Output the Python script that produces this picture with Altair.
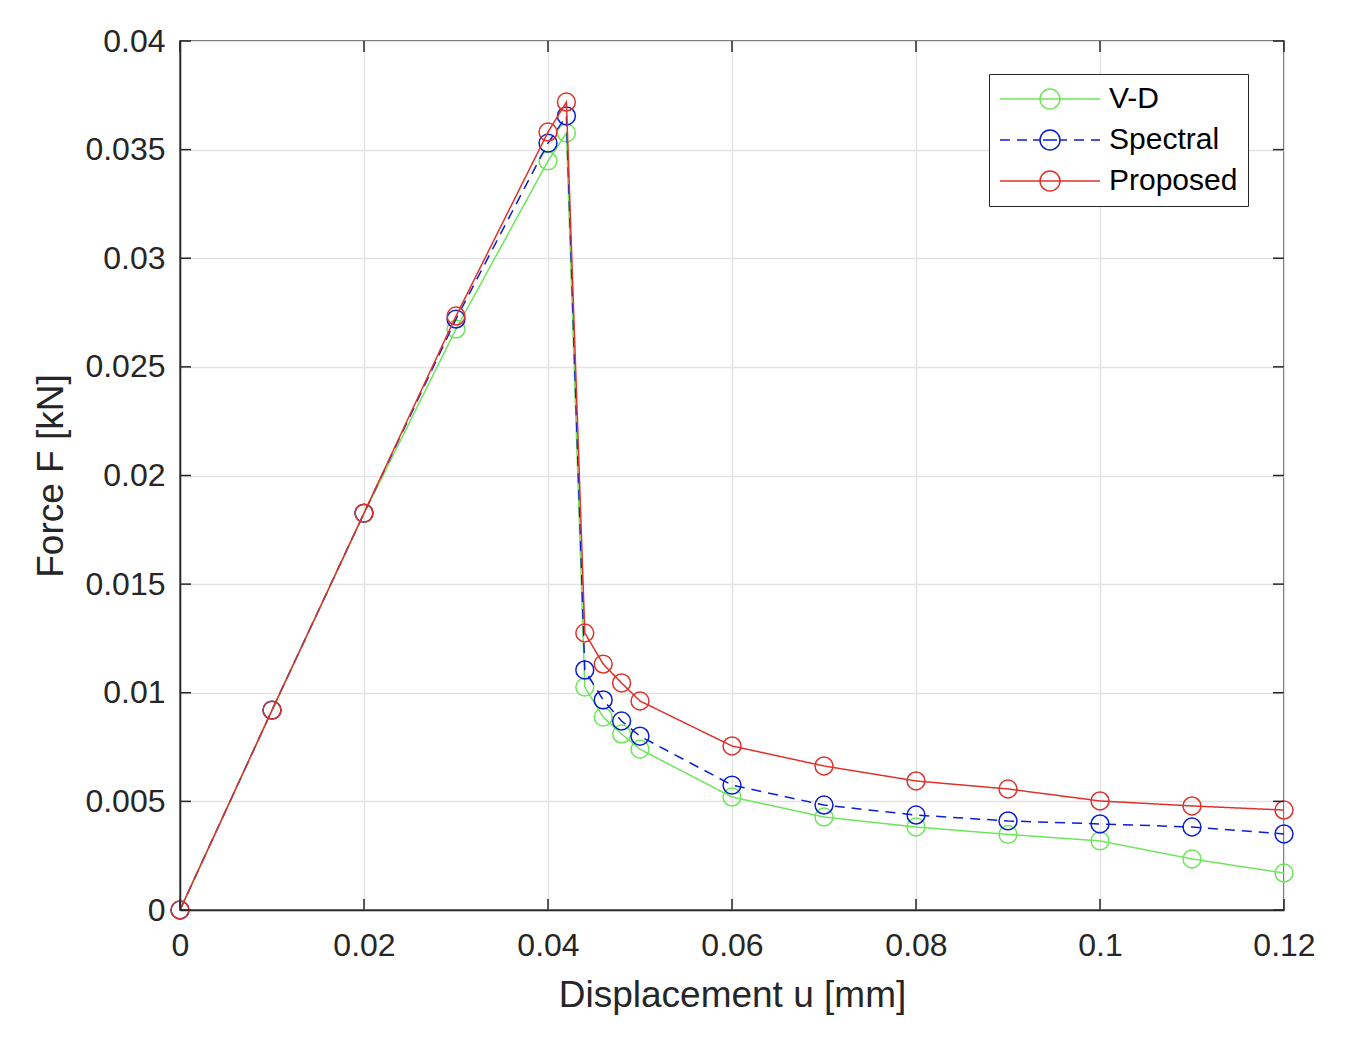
import altair as alt
import pandas as pd

disp = [0, 0.01, 0.02, 0.03, 0.04, 0.042, 0.044, 0.046, 0.048, 0.05,
        0.06, 0.07, 0.08, 0.09, 0.1, 0.11, 0.12]
vd = [0, 0.0092, 0.01825, 0.02674, 0.03448, 0.03577, 0.01026, 0.00888, 0.0081, 0.0074,
      0.0052, 0.00428, 0.00382, 0.00348, 0.00318, 0.00235, 0.0017]
spectral = [0, 0.0092, 0.01827, 0.0272, 0.0353, 0.03655, 0.01105, 0.00967, 0.0087, 0.008,
            0.00575, 0.00483, 0.00437, 0.0041, 0.00396, 0.00382, 0.0035]
proposed = [0, 0.0092, 0.01827, 0.02734, 0.03581, 0.03719, 0.01275, 0.01132, 0.01045, 0.00962,
            0.00755, 0.00663, 0.00594, 0.00557, 0.00502, 0.00479, 0.0046]

series_names = ["V-D", "Spectral", "Proposed"]
series_colors = ["#6ee65a", "#0a1ed2", "#e0322c"]
series_dash = [[1, 0], [10, 7], [1, 0]]

x_ticks = [0, 0.02, 0.04, 0.06, 0.08, 0.1, 0.12]
y_ticks = [0, 0.005, 0.01, 0.015, 0.02, 0.025, 0.03, 0.035, 0.04]

rows = []
for name, vals in zip(series_names, [vd, spectral, proposed]):
    for i, (u, f) in enumerate(zip(disp, vals)):
        rows.append({"u": u, "F": f, "series": name, "idx": i})
df = pd.DataFrame(rows)
xt = pd.DataFrame({"t": x_ticks})
yt = pd.DataFrame({"t": y_ticks})

W, H = 1104, 869
FONT = "Liberation Sans"
TXT = "#262626"
XT = "Displacement u [mm]"
YT = "Force F [kN]"

xscale = alt.Scale(domain=[0, 0.12], nice=False)
yscale = alt.Scale(domain=[0, 0.04], nice=False)
cscale = alt.Scale(domain=series_names, range=series_colors)

# legend glyphs: line with a marker circle in the middle (unit = 10 px)
circ = "M2.6,0A1,1,0,1,1,4.6,0A1,1,0,1,1,2.6,0"
solid_path = "M-1.4,0L8.6,0" + circ
dashed_path = ("M-1.4,0L-0.4,0M0.3,0L1.3,0M1.9,0L2.6,0M2.9,0L4.3,0"
               "M4.6,0L5.3,0M6.0,0L7.0,0M7.7,0L8.6,0" + circ)
sscale = alt.Scale(domain=series_names, range=[solid_path, dashed_path, solid_path])

legend = alt.Legend(
    title=None, orient="none", legendX=809, legendY=33,
    symbolSize=400, symbolStrokeWidth=1.5, symbolOpacity=1,
    symbolFillColor="transparent",
    labelFontSize=30, labelFont=FONT, labelColor="black",
    labelOffset=80, strokeColor="#262626", fillColor="white",
    padding=10, rowPadding=11,
)

xaxis = alt.Axis(values=x_ticks, format="~g", tickSize=0, labelPadding=20,
                 labelFlush=False, titlePadding=16, grid=True)
yaxis = alt.Axis(values=y_ticks, format="~g", tickSize=0, labelPadding=15,
                 labelFlush=False, titlePadding=14, grid=True)

layers = []
for name, dash in zip(series_names, series_dash):
    sub = df[df.series == name]
    line = alt.Chart(sub).mark_line(strokeWidth=1.5, strokeDash=dash).encode(
        x=alt.X("u:Q", scale=xscale, axis=xaxis, title=XT),
        y=alt.Y("F:Q", scale=yscale, axis=yaxis, title=YT),
        color=alt.Color("series:N", scale=cscale, legend=legend),
        order="idx:Q",
    )
    pts = alt.Chart(sub).mark_point(shape="circle", filled=False, size=320,
                                    strokeWidth=1.5, opacity=1).encode(
        x=alt.X("u:Q", scale=xscale, title=XT),
        y=alt.Y("F:Q", scale=yscale, title=YT),
        color=alt.Color("series:N", scale=cscale, legend=legend),
    )
    layers += [line, pts]

# legend-only layer (draws nothing; supplies the legend glyph shapes)
leg_layer = alt.Chart(df).transform_filter("false").mark_point(
    filled=False, strokeWidth=1.5, opacity=1).encode(
    x=alt.X("u:Q", scale=xscale, title=XT),
    y=alt.Y("F:Q", scale=yscale, title=YT),
    color=alt.Color("series:N", scale=cscale, legend=legend),
    shape=alt.Shape("series:N", scale=sscale, legend=legend),
)

tick_color = TXT
bx = alt.Chart(xt).mark_rule(color=tick_color, strokeWidth=1.5).encode(
    x=alt.X("t:Q", scale=xscale, title=XT), y=alt.value(H), y2=alt.value(H - 11))
tx = alt.Chart(xt).mark_rule(color=tick_color, strokeWidth=1.5).encode(
    x=alt.X("t:Q", scale=xscale, title=XT), y=alt.value(0), y2=alt.value(11))
ly = alt.Chart(yt).mark_rule(color=tick_color, strokeWidth=1.5).encode(
    y=alt.Y("t:Q", scale=yscale, title=YT), x=alt.value(0), x2=alt.value(11))
ry = alt.Chart(yt).mark_rule(color=tick_color, strokeWidth=1.5).encode(
    y=alt.Y("t:Q", scale=yscale, title=YT), x=alt.value(W), x2=alt.value(W - 11))

chart = alt.layer(*layers, leg_layer, bx, tx, ly, ry).properties(
    width=W, height=H,
    autosize=alt.AutoSizeParams(type="none"),
    padding={"left": 172, "top": 33, "right": 66, "bottom": 120},
    background="white",
).configure_view(
    stroke=TXT, strokeWidth=1.5
).configure_axis(
    labelFont=FONT, labelFontSize=32, labelColor=TXT,
    titleFont=FONT, titleFontSize=37, titleColor=TXT, titleFontWeight="normal",
    domainColor=TXT, domainWidth=1.5,
    gridColor="#e3e3e3", gridWidth=1.5,
)

chart.save("out.html", embed_options={"renderer": "svg", "actions": False})
